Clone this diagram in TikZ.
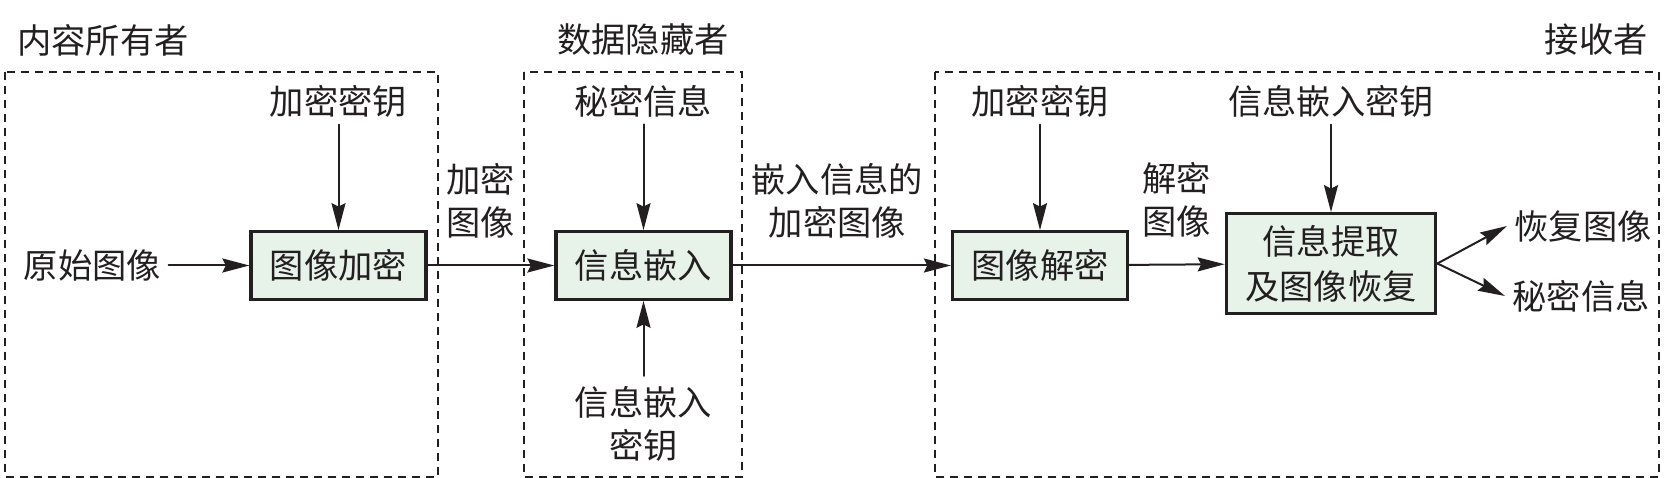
\documentclass[tikz,border=0pt]{standalone}
\usepackage{fontspec}
\usepackage{xcolor}
\usepackage{tikz}
\usetikzlibrary{calc}
\usetikzlibrary{arrows, arrows.meta}
\newfontfamily\cjkfont{Noto Sans CJK SC}
\definecolor{procfill}{RGB}{231,242,233}
\definecolor{inkcolor}{RGB}{35,31,32}

\begin{document}
\begin{tikzpicture}[font=\cjkfont\fontsize{19.5}{24.5}\selectfont, inkcolor]

\tikzset{%
flow line/.style={line width=0.4mm, line cap=round, -{Stealth[length=5.4mm, width=2.8mm, inset=0.7mm]}},%
party frame/.style={line width=0.35mm, dash pattern=on 1.6mm off 1.2mm},%
procbox/.style={draw, line width=0.65mm, fill=procfill, minimum width=35mm, minimum height=13.5mm, inner sep=0},%
tag/.style={align=center, inner sep=0.5mm, outer sep=1mm}%
}

\useasboundingbox (0,0) rectangle (332.8mm, -95.6mm) ;

% party frames and titles

\draw [party frame] (1mm, -14.4mm) rectangle (87.6mm, -95.4mm) ;
\draw [party frame] (104.8mm, -14.4mm) rectangle (148.4mm, -95.4mm) ;
\draw [party frame] (187mm, -14.4mm) rectangle (331.8mm, -95.4mm) ;

\path (3.4mm, -8mm) node [anchor=west, inner sep=0] (owner) {内容所有者} ;
\path (111.4mm, -8mm) node [anchor=west, inner sep=0] (hider) {数据隐藏者} ;
\path (329.6mm, -8mm) node [anchor=east, inner sep=0] (receiver) {接收者} ;

% processing boxes

\path (67.7mm, -53.1mm) node [procbox] (enc) {图像加密} ;
\path (128.7mm, -53.1mm) node [procbox] (emb) {信息嵌入} ;
\path (208mm, -53.1mm) node [procbox] (dec) {图像解密} ;
\path (266.2mm, -52.7mm) node [procbox, minimum width=41.9mm, minimum height=19.9mm, align=center, font=\cjkfont\fontsize{19.5}{25.5}\selectfont] (ext) {信息提取\\及图像恢复} ;

% inputs and outputs

\path (67.7mm, -20.2mm) node [tag] (enckey) {加密密钥} ;
\path (18.5mm, -53.1mm) node [tag] (orig) {原始图像} ;
\path (128.7mm, -20.2mm) node [tag] (secret) {秘密信息} ;
\path (128.7mm, -84.8mm) node [tag, outer sep=1.6mm] (embkey) {信息嵌入\\密钥} ;
\path (208mm, -20.2mm) node [tag] (deckey) {加密密钥} ;
\path (266.2mm, -20.2mm) node [tag] (extkey) {信息嵌入密钥} ;
\path (316.6mm, -45.2mm) node [tag] (recimg) {恢复图像} ;
\path (316.2mm, -59.2mm) node [tag] (secout) {秘密信息} ;

% draw arrows

\draw [flow line] (orig) -- (enc) ;
\draw [flow line] (enckey) -- (enc) ;
\draw [flow line] (enc) -- (emb)
	node [tag, pos=0.42, above=4mm] {加密\\图像} ;
\draw [flow line] (secret) -- (emb) ;
\draw [flow line] (embkey) -- (emb) ;
\draw [flow line] (emb) -- (dec)
	node [tag, pos=0.48, above=4mm] {嵌入信息的\\加密图像} ;
\draw [flow line] (deckey) -- (dec) ;
\draw [flow line] (dec) -- (ext)
	node [tag, pos=0.5, above=4mm] {解密\\图像} ;
\draw [flow line] (extkey) -- (ext) ;
\draw [flow line] (ext.east) -- (recimg.west) ;
\draw [flow line] (ext.east) -- (secout.west) ;

\end{tikzpicture}
\end{document}
